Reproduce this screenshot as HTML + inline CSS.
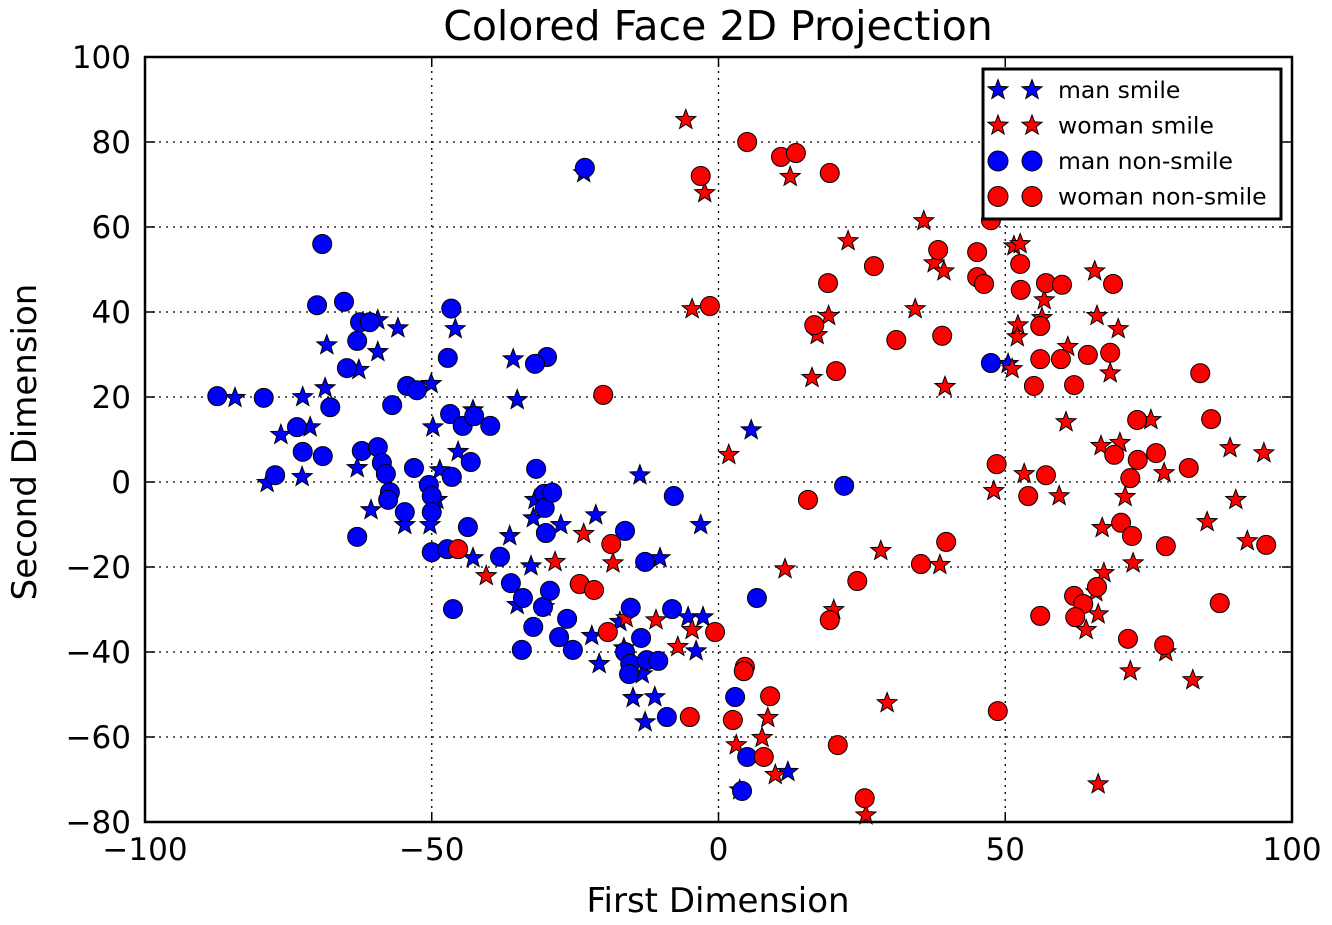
<!DOCTYPE html>
<html><head><meta charset="utf-8"><style>
body{margin:0;background:#fff;font-family:"DejaVu Sans","Liberation Sans",sans-serif;}
svg text{font-family:"DejaVu Sans","Liberation Sans",sans-serif;}
</style></head><body>
<svg id="chart" width="1332" height="921" xmlns="http://www.w3.org/2000/svg">
<rect width="1332" height="921" fill="#fff"/>
<g id="grid"></g>
<g id="marks"></g>
<rect x="145" y="57" width="1147" height="765" fill="none" stroke="#000" stroke-width="2.5"/>
<g id="ticks"></g>
<text x="718" y="40" font-size="41" text-anchor="middle">Colored Face 2D Projection</text>
<text x="718" y="912" font-size="34" text-anchor="middle">First Dimension</text>
<text transform="translate(36,442) rotate(-90)" font-size="34" text-anchor="middle">Second Dimension</text>
<g id="legend"></g>
</svg>
<script>
const xTicks=[-100,-50,0,50,100];
const yTicks=[-80,-60,-40,-20,0,20,40,60,80,100];
const manNonSmile=[[-87.4,20.2],[-79.3,19.8],[-69.1,56.0],[-70.0,41.6],[-65.3,42.4],[-62.5,37.6],[-60.8,37.6],[-63.0,33.2],[-64.8,26.8],[-67.7,17.6],[-73.5,12.9],[-77.3,1.6],[-72.5,7.1],[-69.0,6.1],[-62.2,7.3],[-59.4,8.2],[-58.7,4.5],[-58.0,1.9],[-57.3,-2.4],[-57.6,-4.2],[-54.7,-7.1],[-63.0,-12.9],[-56.9,18.1],[-54.3,22.6],[-52.6,21.6],[-53.1,3.3],[-50.5,-0.7],[-50.0,-3.3],[-50.0,-7.1],[-50.0,-16.5],[-47.3,-15.8],[-46.6,40.8],[-47.2,29.2],[-46.8,16.0],[-44.6,13.2],[-42.6,15.5],[-39.8,13.2],[-43.2,4.7],[-46.5,1.2],[-43.7,-10.6],[-46.3,-29.9],[-29.9,29.4],[-32.0,27.8],[-31.8,3.1],[-30.4,-2.8],[-30.3,-6.1],[-29.0,-2.5],[-30.1,-12.0],[-38.1,-17.6],[-36.2,-23.8],[-34.1,-27.3],[-32.3,-34.1],[-34.3,-39.5],[-30.6,-29.4],[-29.4,-25.6],[-26.4,-32.2],[-27.8,-36.5],[-25.4,-39.5],[-16.3,-11.5],[-12.8,-18.8],[-15.3,-29.6],[-13.5,-36.7],[-16.3,-40.0],[-15.4,-42.8],[-15.6,-45.2],[-12.5,-41.9],[-10.5,-42.1],[-8.1,-29.9],[-9.0,-55.3],[-7.8,-3.3],[-23.3,73.9],[21.9,-0.9],[6.7,-27.3],[2.9,-50.6],[5.0,-64.7],[4.1,-72.7],[47.5,28.0]];
const womanNonSmile=[[5.0,80.0],[10.9,76.5],[13.5,77.4],[-3.1,72.0],[19.4,72.7],[-1.5,41.4],[-20.1,20.5],[-45.4,-15.8],[-24.2,-24.0],[-21.7,-25.4],[-18.7,-14.6],[-19.3,-35.3],[-5.0,-55.3],[-0.6,-35.3],[2.5,-56.0],[4.6,-43.5],[4.4,-44.5],[7.9,-64.7],[9.0,-50.4],[15.6,-4.2],[16.7,36.9],[19.1,46.8],[20.5,26.1],[19.4,-32.5],[20.8,-61.9],[24.2,-23.3],[25.5,-74.4],[27.1,50.8],[31.0,33.4],[35.3,-19.3],[38.3,54.6],[39.0,34.4],[39.7,-14.1],[45.1,54.1],[45.1,48.2],[46.3,46.6],[47.5,61.6],[48.5,4.2],[54.0,-3.3],[52.6,51.3],[52.7,45.2],[56.1,36.7],[56.1,28.9],[55.0,22.6],[56.1,-31.5],[57.1,1.6],[57.1,46.8],[59.9,46.4],[59.7,28.9],[62.0,22.8],[64.4,29.9],[68.3,30.4],[68.8,46.6],[73.0,14.6],[69.0,6.4],[70.2,-9.6],[71.8,0.9],[72.1,-12.7],[76.3,6.8],[82.0,3.3],[78.0,-15.1],[84.0,25.6],[85.9,14.8],[87.4,-28.5],[95.5,-14.8],[62.0,-26.8],[63.6,-28.7],[62.2,-31.8],[66.0,-24.7],[71.4,-36.9],[77.7,-38.4],[48.7,-53.9],[73.1,5.2]];
const manSmile=[[-84.3,19.8],[-78.7,-0.2],[-76.3,11.1],[-72.5,20.0],[-71.2,12.9],[-72.6,1.2],[-68.3,32.2],[-68.6,22.1],[-62.7,26.4],[-63.0,3.3],[-60.6,-6.6],[-59.4,38.1],[-59.4,30.6],[-55.9,36.2],[-54.7,-10.1],[-50.1,23.1],[-49.8,12.9],[-50.3,-10.1],[-49.1,-4.2],[-48.6,2.8],[-45.9,36.0],[-45.4,7.1],[-42.8,16.9],[-42.8,-17.9],[-35.8,28.9],[-35.1,19.3],[-36.4,-12.7],[-35.1,-28.9],[-32.7,-19.8],[-32.0,-4.2],[-32.3,-8.5],[-30.4,-29.4],[-27.5,-10.1],[-21.4,-7.8],[-22.1,-36.2],[-20.8,-42.8],[-17.2,-32.9],[-16.5,-39.1],[-13.7,1.6],[-14.9,-50.8],[-11.1,-50.6],[-12.8,-56.5],[-10.2,-17.9],[-5.3,-31.8],[-3.1,-10.1],[-3.9,-39.8],[-2.7,-31.8],[5.7,12.2],[-23.5,72.7],[12.1,-68.2],[3.7,-72.5],[50.5,27.8],[-13.3,-45.2]];
const womanSmile=[[-5.7,85.2],[-2.4,68.0],[-4.6,40.7],[1.8,6.4],[-18.4,-19.1],[-28.5,-18.8],[-40.5,-22.1],[-23.5,-12.2],[-16.1,-32.0],[-10.9,-32.5],[-7.1,-38.8],[-4.6,-34.8],[3.1,-61.9],[7.6,-60.2],[8.6,-55.5],[9.9,-68.9],[11.6,-20.5],[12.5,71.8],[22.6,56.7],[16.3,24.5],[17.2,34.6],[19.2,39.1],[20.1,-30.1],[29.4,-52.0],[25.7,-78.4],[28.3,-16.2],[34.3,40.7],[35.8,61.4],[37.6,51.5],[39.3,49.6],[39.5,22.4],[38.6,-19.5],[48.0,-2.1],[51.2,26.6],[52.2,36.9],[52.1,34.1],[51.5,55.5],[52.6,56.0],[53.3,1.9],[56.4,38.6],[56.8,42.8],[59.4,-3.3],[60.6,14.1],[60.9,31.8],[65.6,49.6],[66.0,39.1],[66.7,8.5],[66.9,-10.8],[66.2,-31.1],[64.1,-34.8],[65.8,-25.9],[67.2,-21.4],[68.3,25.6],[69.7,36.0],[70.0,9.2],[70.9,-3.5],[72.3,-19.1],[75.4,14.6],[77.7,2.1],[78.0,-40.0],[85.2,-9.4],[89.2,8.0],[90.2,-4.2],[92.2,-13.9],[95.1,6.8],[82.7,-46.6],[71.8,-44.5],[66.2,-71.1]];

const NS='http://www.w3.org/2000/svg';
const X0=145,X1=1292,Y0=822,Y1=57;
const sx=v=>X0+(v+100)/200*(X1-X0);
const sy=v=>Y0-(v+80)/180*(Y0-Y1);
function mk(tag,attrs,parent){const e=document.createElementNS(NS,tag);for(const k in attrs)e.setAttribute(k,attrs[k]);parent.appendChild(e);return e;}
function starPath(cx,cy,R){const r=R*0.42;let d='';for(let i=0;i<10;i++){const a=-Math.PI/2+i*Math.PI/5;const rr=i%2?r:R;d+=(i?'L':'M')+(cx+rr*Math.cos(a)).toFixed(1)+','+(cy+rr*Math.sin(a)).toFixed(1);}return d+'Z';}
const grid=document.getElementById('grid'),ticks=document.getElementById('ticks'),marks=document.getElementById('marks'),legend=document.getElementById('legend');
xTicks.forEach(t=>{const x=sx(t);
 if(t>-100&&t<100){const l=mk('line',{x1:x,x2:x,y1:Y1,y2:Y0,stroke:'#000','stroke-width':1.3,'stroke-dasharray':'2,5'},grid);
 
 }
 mk('line',{x1:x,x2:x,y1:Y0,y2:Y0-10,stroke:'#000','stroke-width':1.5},ticks);
 mk('line',{x1:x,x2:x,y1:Y1,y2:Y1+10,stroke:'#000','stroke-width':1.5},ticks);
 const tx=mk('text',{x:x,y:860,'font-size':31,'text-anchor':'middle'},ticks);tx.textContent=(t<0?'\u2212'+(-t):t);
 
 });
yTicks.forEach(t=>{const y=sy(t);
 if(t>-80&&t<100){const l=mk('line',{x1:X0,x2:X1,y1:y,y2:y,stroke:'#000','stroke-width':1.3,'stroke-dasharray':'2,5'},grid);
 
 }
 mk('line',{x1:X0,x2:X0+10,y1:y,y2:y,stroke:'#000','stroke-width':1.5},ticks);
 mk('line',{x1:X1,x2:X1-10,y1:y,y2:y,stroke:'#000','stroke-width':1.5},ticks);
 const tx=mk('text',{x:131,y:y+11,'font-size':31,'text-anchor':'end'},ticks);tx.textContent=(t<0?'\u2212'+(-t):t);
 
 });
function star(cx,cy,color,R,parent){return mk('path',{d:starPath(cx,cy,R),fill:color,stroke:'#000','stroke-width':1},parent);}
function circ(cx,cy,color,r,parent){return mk('circle',{cx:cx,cy:cy,r:r,fill:color,stroke:'#000','stroke-width':1},parent);}
manSmile.forEach(d=>{const p=star(sx(d[0]),sy(d[1]),'#0000ff',10.5,marks);
 
 });
womanSmile.forEach(d=>{const p=star(sx(d[0]),sy(d[1]),'#ff0000',10.5,marks);
 
 });
manNonSmile.forEach(d=>{const p=circ(sx(d[0]),sy(d[1]),'#0000ff',9.5,marks);
 
 });
womanNonSmile.forEach(d=>{const p=circ(sx(d[0]),sy(d[1]),'#ff0000',9.5,marks);
 
 });
const box=mk('rect',{x:983,y:69,width:298,height:150,fill:'#fff',stroke:'#000','stroke-width':3},legend);


const entries=[['man smile','#0000ff','s'],['woman smile','#ff0000','s'],['man non-smile','#0000ff','c'],['woman non-smile','#ff0000','c']];
entries.forEach((e,i)=>{const y=90+i*35.5;const g=mk('g',{},legend);
 
 
 [998,1032].forEach(x=>{if(e[2]=='s')star(x,y,e[1],10.5,g);else circ(x,y,e[1],10,g);});
 const t=mk('text',{x:1058,y:y+8,'font-size':23.5},g);t.textContent=e[0];});
</script>
</body></html>
